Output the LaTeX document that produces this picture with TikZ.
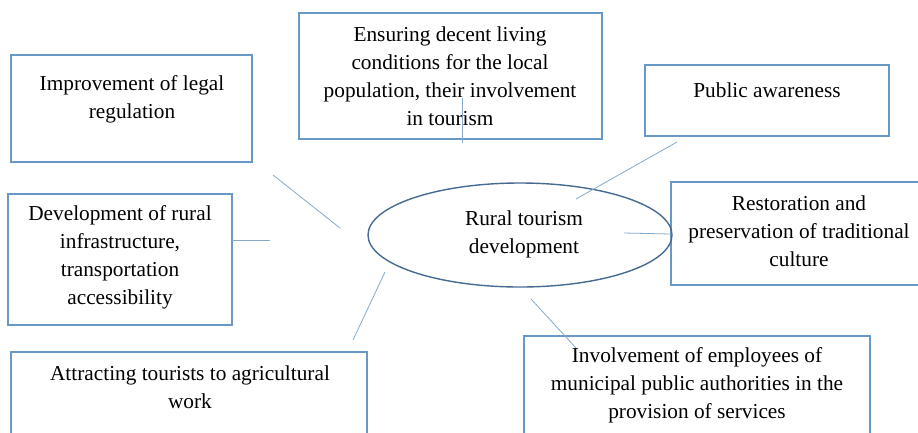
\documentclass[tikz,border=0pt]{standalone}
\usepackage{fontspec}
\setmainfont{Liberation Serif}
\usetikzlibrary{shapes.geometric}
\definecolor{boxblue}{RGB}{104,152,198}
\definecolor{ellblue}{RGB}{70,106,146}
\definecolor{linkblue}{RGB}{132,170,204}
\tikzset{
  boxrect/.style={draw=boxblue, line width=1.2pt, fill=white},
  lbl/.style={align=center, font=\fontsize{21.3}{28}\selectfont, inner sep=0pt},
  link/.style={draw=linkblue, line width=0.8pt},
}
\begin{document}
\begin{tikzpicture}[x=1pt,y=-1pt]
\useasboundingbox[fill=white] (0,0) rectangle (918,432);
% boxes
\draw[boxrect] (11,55) rectangle (252,162);
\coordinate (legalNE) at (252,55);
\draw[boxrect] (299,13) rectangle (602,139);
\draw[boxrect] (645,65) rectangle (889,136);
\draw[boxrect] (671,182) rectangle (927,285);
\draw[boxrect] (8,194) rectangle (232,325);
\draw[boxrect] (11,352) rectangle (367,445);
\draw[boxrect] (524,336) rectangle (870,445);
% ellipse
\node[ellipse, draw=ellblue, line width=1.4pt, minimum width=304pt, minimum height=104pt, inner sep=0pt] (core) at (520,235) {};
% texts
\node[lbl] (legal) at (132,99.5) {Improvement of legal\\regulation};
\node[lbl] (ensure) at (450,76.5) {Ensuring decent living\\conditions for the local\\population, their involvement\\in tourism};
\node[lbl] (public) at (767,90.5) {Public awareness};
\node[lbl] (restore) at (799,231.5) {Restoration and\\preservation of traditional\\culture};
\node[lbl] (coretext) at (524,234.5) {Rural tourism\\development};
\node[lbl] (infra) at (120,257.5) {Development of rural\\infrastructure,\\transportation\\accessibility};
\node[lbl] (attract) at (190,387.5) {Attracting tourists to agricultural\\work};
\node[lbl] (involve) at (697,385.5) {Involvement of employees of\\municipal public authorities in the\\provision of services};
% connector end points
\coordinate (l1a) at (273,175); \coordinate (l1b) at (340,228);
\coordinate (l2a) at (462,98);  \coordinate (l2b) at (462,143);
\coordinate (l3a) at (677,142); \coordinate (l3b) at (576,199);
\coordinate (l4a) at (624,233); \coordinate (l4b) at (671,234);
\coordinate (l5a) at (531,299); \coordinate (l5b) at (576,348);
\coordinate (l6a) at (232,240); \coordinate (l6b) at (270,240);
\coordinate (l7a) at (385,272); \coordinate (l7b) at (353,340);
\draw[link] (l1a) -- (l1b);
\draw[link] (l2a) -- (l2b);
\draw[link] (l3a) -- (l3b);
\draw[link] (l4a) -- (l4b);
\draw[link] (l5a) -- (l5b);
\draw[link] (l6a) -- (l6b);
\draw[link] (l7a) -- (l7b);
\end{tikzpicture}
\end{document}
